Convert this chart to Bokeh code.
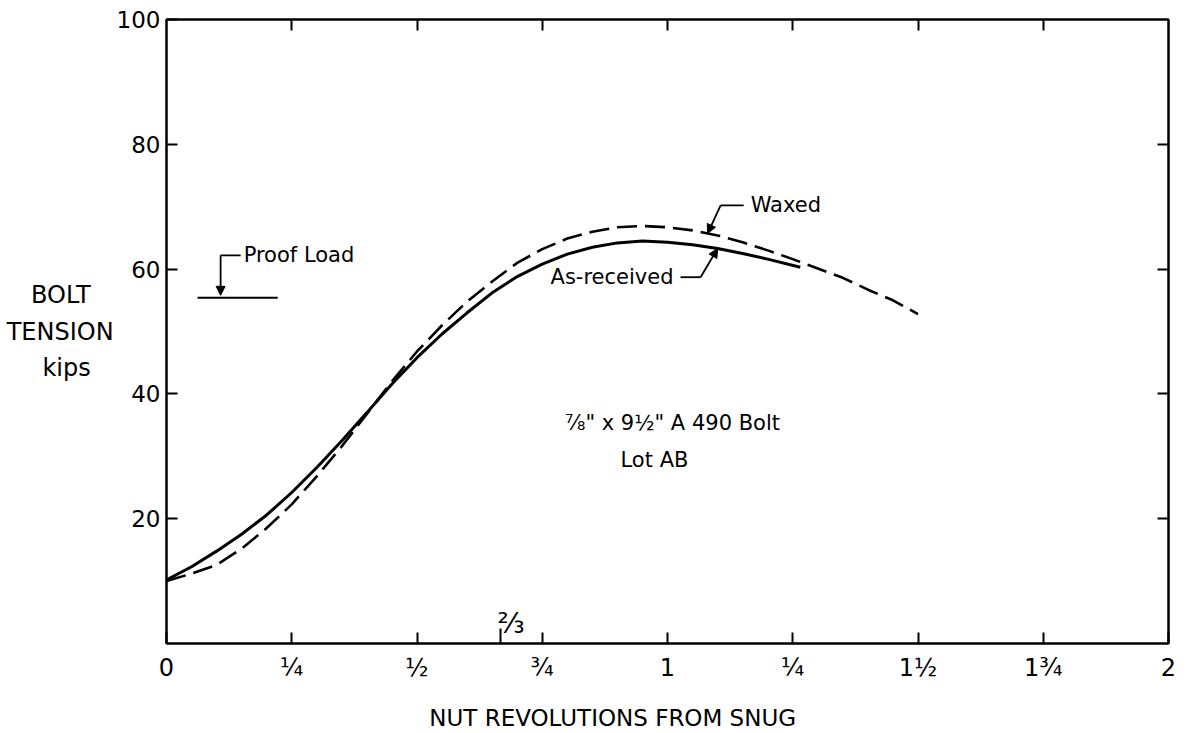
from bokeh.plotting import figure
from bokeh.models import (LinearAxis, FixedTicker, Label, Arrow, NormalHead, Range1d)
from bokeh.embed import file_html
from bokeh.resources import INLINE

# ---- data ----
as_received_x = [0.00, 0.05, 0.10, 0.15, 0.20, 0.25, 0.30, 0.35, 0.40, 0.45, 0.50, 0.55, 0.60,
                 0.65, 0.70, 0.75, 0.80, 0.85, 0.90, 0.95, 1.00, 1.05, 1.10, 1.15, 1.20, 1.265]
as_received_y = [10.2, 12.3, 14.8, 17.5, 20.6, 24.2, 28.2, 32.5, 37.0, 41.6, 45.8, 49.6, 53.0,
                 56.2, 58.8, 60.8, 62.4, 63.5, 64.2, 64.5, 64.3, 63.9, 63.3, 62.5, 61.6, 60.3]

waxed_x = [0.00, 0.05, 0.10, 0.15, 0.20, 0.25, 0.30, 0.35, 0.40, 0.45, 0.50, 0.55, 0.60, 0.65,
           0.70, 0.75, 0.80, 0.85, 0.90, 0.95, 1.00, 1.05, 1.10, 1.15, 1.20, 1.25, 1.30, 1.35,
           1.40, 1.45, 1.50]
waxed_y = [10.0, 11.2, 12.6, 15.2, 18.5, 22.3, 26.8, 31.6, 36.8, 42.0, 46.8, 51.0, 54.8, 58.0,
           61.0, 63.2, 64.9, 66.0, 66.7, 66.9, 66.7, 66.2, 65.4, 64.3, 63.0, 61.6, 60.1, 58.6,
           56.7, 55.0, 52.8]

proof_load = 55.4
proof_line_x = [0.062, 0.222]

x_ticks = [0, 0.25, 0.5, 0.75, 1.0, 1.25, 1.5, 1.75, 2.0]
x_tick_labels = ["0", "¼", "½", "¾", "1", "¼", "1½", "1¾", "2"]
y_ticks = [20, 40, 60, 80, 100]
special_tick = 2 / 3
special_tick_label = "⅔"

waxed_leader_x = [1.152, 1.106, 1.080]
waxed_leader_y = [70.2, 70.2, 65.7]
asrec_leader_x = [1.026, 1.066, 1.100]
asrec_leader_y = [58.7, 58.7, 63.3]
proof_leader_x = [0.148, 0.108, 0.108]
proof_leader_y = [62.2, 62.2, 55.8]

NBSP = "\u00a0"
x_title = "NUT REVOLUTIONS FROM SNUG" + NBSP * 15
y_title = "BOLT" + NBSP * 3 + "\nTENSION\nkips" + NBSP * 3

FONT = "DejaVu Sans"

p = figure(width=1187, height=733, output_backend="svg", toolbar_location=None,
           x_range=Range1d(0, 2), y_range=Range1d(0, 100),
           min_border_left=166, min_border_right=19, min_border_top=19, min_border_bottom=89,
           x_axis_location=None, y_axis_location=None)
p.xgrid.visible = False
p.ygrid.visible = False
p.outline_line_color = "black"
p.outline_line_width = 2
p.background_fill_color = "white"
p.border_fill_color = "white"


def style_axis(ax, ticks, labels=True, fs="22px"):
    ax.ticker = FixedTicker(ticks=ticks)
    ax.axis_line_color = "black"
    ax.axis_line_width = 2
    ax.major_tick_in = 11
    ax.major_tick_out = 0
    ax.major_tick_line_width = 2
    ax.minor_tick_line_color = None
    ax.major_label_text_font = FONT
    ax.major_label_text_color = "black"
    ax.major_label_text_font_size = fs if labels else "0px"


bottom = LinearAxis()
style_axis(bottom, x_ticks, fs="24px")
bottom.major_label_overrides = {t: l for t, l in zip(x_ticks, x_tick_labels)}
bottom.major_label_standoff = 10
bottom.axis_label = x_title
bottom.axis_label_text_font = FONT
bottom.axis_label_text_font_size = "23px"
bottom.axis_label_text_font_style = "normal"
bottom.axis_label_text_color = "black"
bottom.axis_label_standoff = 20
p.add_layout(bottom, "below")

left = LinearAxis()
style_axis(left, y_ticks, fs="23px")
left.major_label_standoff = 6
left.axis_label = y_title
left.axis_label_orientation = "horizontal"
left.axis_label_text_font = FONT
left.axis_label_text_font_size = "24px"
left.axis_label_text_font_style = "normal"
left.axis_label_text_color = "black"
left.axis_label_text_line_height = 1.3
left.axis_label_standoff = 0
p.add_layout(left, "left")

top = LinearAxis()
style_axis(top, x_ticks[1:-1], labels=False)
top.major_label_standoff = 0
p.add_layout(top, "above")

right = LinearAxis()
style_axis(right, y_ticks[:-1], labels=False)
right.major_label_standoff = 0
p.add_layout(right, "right")

# curves
p.line(as_received_x, as_received_y, line_color="black", line_width=3)
p.line(waxed_x, waxed_y, line_color="black", line_width=2.6, line_dash="20 8")

# proof load line
p.line(proof_line_x, [proof_load, proof_load], line_color="black", line_width=2)

# 2/3 tick
p.line([special_tick, special_tick], [0, 2.4], line_color="black", line_width=2)
p.add_layout(Label(x=special_tick, y=3.2, text=special_tick_label, text_font=FONT,
                   text_font_size="28px", text_align="left", text_baseline="middle",
                   x_offset=-3, text_color="black"))

# leaders and arrows
for lx, ly in [(waxed_leader_x, waxed_leader_y), (asrec_leader_x, asrec_leader_y),
               (proof_leader_x, proof_leader_y)]:
    p.line(lx[:2], ly[:2], line_color="black", line_width=1.8)
    p.add_layout(Arrow(x_start=lx[1], y_start=ly[1], x_end=lx[2], y_end=ly[2],
                       line_color="black", line_width=1.8,
                       end=NormalHead(size=9, fill_color="black", line_color="black")))

# texts
def add_text(x, y, t, align="left", fs="22px"):
    p.add_layout(Label(x=x, y=y, text=t, text_font=FONT, text_font_size=fs,
                       text_align=align, text_baseline="middle", text_color="black"))

add_text(1.166, 70.2, "Waxed", "left", "21px")
add_text(1.012, 58.7, "As-received", "right", "21px")
add_text(0.154, 62.2, "Proof Load", "left", "21px")
add_text(1.01, 35.3, "⅞\" x 9½\" A 490 Bolt", "center", "21px")
add_text(0.974, 29.4, "Lot AB", "center", "21px")

open("out.html", "w").write(file_html(p, INLINE))
